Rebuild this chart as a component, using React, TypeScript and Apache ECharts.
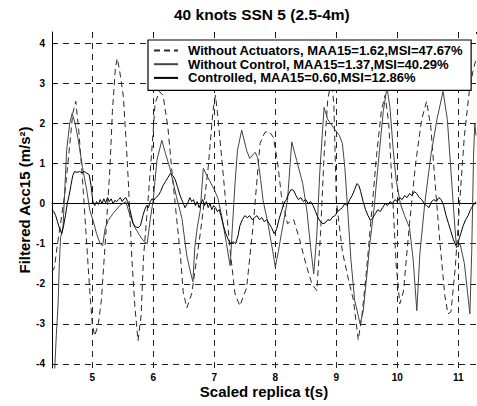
import { useEffect, useRef } from "react";
import * as echarts from "echarts";

const titleText = "40 knots SSN 5 (2.5-4m)";
const xAxisTitle = "Scaled replica t(s)";
const yAxisTitle = "Filtered Acc15 (m/s\u00B2)";
const seriesNames = [
  "Without Actuators, MAA15=1.62,MSI=47.67%",
  "Without Control, MAA15=1.37,MSI=40.29%",
  "Controlled, MAA15=0.60,MSI=12.86%",
];
const xRange = [4.34, 11.29];
const yRange = [-4.1, 4.28];

// [t (s), acceleration (m/s^2)]
const withoutActuators: [number, number][] = [
  [4.34,-1.7],[4.38,-1.6],[4.43,-1.0],[4.48,-0.5],[4.55,0.25],[4.62,1.3],[4.68,2.25],[4.73,2.55],[4.78,1.8],[4.84,0.6],
  [4.90,-0.8],[4.96,-2.2],[5.00,-3.0],[5.04,-3.3],[5.10,-3.0],[5.15,-2.4],[5.22,-0.8],[5.29,0.9],[5.33,2.3],[5.38,3.4],
  [5.41,3.62],[5.45,3.3],[5.51,2.67],[5.56,1.42],[5.59,0.58],[5.65,-1.4],[5.70,-2.6],[5.75,-3.42],[5.80,-2.8],[5.84,-1.35],
  [5.91,0.0],[5.97,1.2],[6.03,2.5],[6.10,2.8],[6.16,2.7],[6.24,1.9],[6.30,0.9],[6.38,-0.33],[6.44,-1.2],[6.49,-2.2],
  [6.55,-2.6],[6.63,-2.25],[6.70,-1.5],[6.77,-0.75],[6.84,0.1],[6.90,0.9],[6.98,2.33],[7.02,2.7],[7.06,2.15],[7.15,0.67],
  [7.26,-1.17],[7.34,-2.25],[7.42,-2.55],[7.53,-2.1],[7.64,-0.5],[7.75,1.5],[7.83,1.78],[7.90,1.8],[7.97,1.65],[8.04,1.0],
  [8.10,0.2],[8.20,-0.5],[8.30,-0.4],[8.40,-0.9],[8.50,-1.5],[8.60,-2.0],[8.68,-2.17],[8.74,-0.8],[8.80,1.2],[8.86,2.6],
  [8.92,3.05],[8.96,2.5],[9.00,0.08],[9.10,-1.2],[9.20,-1.9],[9.28,-2.4],[9.36,-3.4],[9.42,-2.8],[9.50,-1.6],[9.58,-0.2],
  [9.66,1.2],[9.74,2.33],[9.80,2.7],[9.86,2.0],[9.92,0.3],[9.98,-1.5],[10.04,-2.5],[10.10,-2.2],[10.20,-0.5],[10.30,1.0],
  [10.40,2.1],[10.48,2.55],[10.55,1.9],[10.62,0.5],[10.70,-1.0],[10.78,-2.3],[10.83,-2.75],[10.88,-2.7],[10.95,-1.6],[11.03,0.2],
  [11.10,1.7],[11.18,2.8],[11.24,3.3],[11.29,3.6],
];

const withoutControl: [number, number][] = [
  [4.34,-4.8],[4.38,-4.3],[4.41,-3.3],[4.44,-2.5],[4.46,-1.5],[4.48,-0.85],[4.52,-0.6],[4.58,1.33],[4.63,2.0],[4.67,2.25],
  [4.72,2.0],[4.77,1.6],[4.84,0.9],[4.91,0.33],[4.96,-0.17],[5.02,-0.45],[5.07,-0.75],[5.13,-1.0],[5.17,-1.05],[5.21,-0.63],
  [5.26,-0.42],[5.34,-0.25],[5.45,-0.05],[5.55,0.05],[5.62,-0.3],[5.70,-0.6],[5.78,-0.8],[5.85,-0.95],[5.90,-1.0],[5.95,-0.4],
  [6.00,0.1],[6.06,1.08],[6.14,1.58],[6.20,1.25],[6.27,0.9],[6.38,0.17],[6.47,-0.37],[6.55,-1.3],[6.60,-1.65],[6.65,-1.95],
  [6.68,-1.1],[6.72,-0.6],[6.77,-0.17],[6.82,0.88],[6.88,0.7],[6.93,0.55],[7.00,0.35],[7.06,0.13],[7.12,-0.3],[7.20,-1.0],
  [7.26,-1.55],[7.30,-0.5],[7.34,0.5],[7.38,1.33],[7.45,1.83],[7.53,1.33],[7.58,1.13],[7.67,1.28],[7.71,1.15],[7.76,0.6],
  [7.80,0.08],[7.88,-0.5],[7.96,-1.2],[8.00,-1.58],[8.05,-1.2],[8.10,-0.75],[8.20,0.08],[8.27,1.54],[8.35,1.08],[8.45,0.5],
  [8.52,-0.2],[8.58,-1.1],[8.63,-1.75],[8.68,-0.8],[8.73,0.8],[8.80,2.4],[8.86,2.1],[8.95,1.9],[9.05,1.7],[9.10,1.5],
  [9.14,0.9],[9.18,0.0],[9.24,-1.4],[9.30,-2.4],[9.39,-3.0],[9.44,-2.7],[9.50,-1.8],[9.55,-1.0],[9.62,-0.1],[9.70,1.2],
  [9.77,2.3],[9.83,2.9],[9.88,2.4],[9.93,1.4],[9.98,0.6],[10.05,0.0],[10.12,-0.3],[10.20,-0.6],[10.26,-1.4],[10.32,-2.67],
  [10.37,-1.25],[10.45,0.0],[10.55,1.2],[10.65,2.1],[10.75,2.8],[10.82,2.1],[10.88,0.8],[10.93,-0.3],[10.97,-1.1],[11.03,-1.0],
  [11.10,-1.5],[11.15,-2.2],[11.19,-2.75],[11.22,-1.2],[11.25,1.2],[11.27,2.0],[11.29,1.7],
];

const controlled: [number, number][] = [
  [4.34,-0.15],[4.37,-0.2],[4.40,-0.3],[4.43,-0.45],[4.46,-0.6],[4.50,-0.75],[4.53,-0.55],[4.56,-0.3],[4.59,0.0],[4.62,0.2],
  [4.65,0.45],[4.68,0.7],[4.71,0.8],[4.75,0.78],[4.79,0.8],[4.83,0.77],[4.87,0.8],[4.91,0.76],[4.95,0.72],[4.98,0.45],
  [5.01,0.05],[5.04,-0.05],[5.07,0.05],[5.10,-0.02],[5.13,0.1],[5.16,0.0],[5.19,0.12],[5.22,0.02],[5.25,0.15],[5.28,0.05],
  [5.31,0.12],[5.34,0.0],[5.37,0.08],[5.40,0.05],[5.43,0.1],[5.46,0.15],[5.49,0.05],[5.52,0.12],[5.55,0.15],[5.58,0.05],
  [5.61,-0.1],[5.64,-0.3],[5.67,-0.5],[5.71,-0.58],[5.75,-0.6],[5.79,-0.55],[5.83,-0.3],[5.86,-0.15],[5.89,-0.05],[5.92,-0.1],
  [5.95,0.05],[5.98,0.12],[6.01,0.08],[6.04,0.15],[6.08,0.2],[6.12,0.3],[6.16,0.45],[6.20,0.55],[6.24,0.65],[6.28,0.75],
  [6.32,0.7],[6.36,0.6],[6.40,0.4],[6.44,0.2],[6.48,0.05],[6.52,-0.1],[6.56,0.0],[6.60,0.15],[6.63,0.05],[6.66,0.1],
  [6.69,-0.05],[6.72,0.05],[6.75,-0.1],[6.78,0.0],[6.81,0.1],[6.84,-0.05],[6.87,0.05],[6.90,-0.1],[6.93,0.0],[6.96,-0.15],
  [6.99,-0.05],[7.02,-0.1],[7.05,-0.2],[7.08,-0.15],[7.11,-0.3],[7.15,-0.55],[7.19,-0.75],[7.23,-0.9],[7.27,-1.0],[7.31,-0.95],
  [7.35,-1.0],[7.39,-0.8],[7.42,-0.55],[7.46,-0.4],[7.50,-0.3],[7.54,-0.35],[7.58,-0.3],[7.62,-0.4],[7.66,-0.35],[7.70,-0.3],
  [7.74,-0.4],[7.78,-0.35],[7.82,-0.45],[7.86,-0.4],[7.90,-0.5],[7.94,-0.6],[7.98,-0.75],[8.02,-0.65],[8.06,-0.4],[8.10,-0.2],
  [8.14,0.0],[8.18,0.1],[8.22,0.25],[8.26,0.35],[8.30,0.33],[8.34,0.2],[8.38,0.1],[8.42,0.15],[8.46,0.05],[8.50,0.1],
  [8.54,0.0],[8.58,0.05],[8.62,-0.05],[8.66,-0.2],[8.70,-0.35],[8.74,-0.45],[8.78,-0.5],[8.82,-0.48],[8.86,-0.4],[8.90,-0.42],
  [8.94,-0.33],[8.98,-0.3],[9.02,-0.2],[9.06,-0.15],[9.10,-0.1],[9.14,0.0],[9.18,-0.05],[9.22,0.1],[9.26,0.2],[9.30,0.35],
  [9.34,0.5],[9.37,0.45],[9.40,0.3],[9.44,0.05],[9.48,-0.15],[9.52,-0.3],[9.56,-0.42],[9.60,-0.35],[9.64,-0.25],[9.68,-0.15],
  [9.72,-0.2],[9.76,-0.1],[9.80,0.0],[9.84,-0.05],[9.88,0.05],[9.92,0.0],[9.96,0.1],[10.00,0.05],[10.04,0.15],[10.08,0.1],
  [10.12,0.2],[10.16,0.15],[10.20,0.25],[10.24,0.2],[10.28,0.3],[10.32,0.25],[10.36,0.15],[10.40,0.1],[10.44,0.0],[10.48,-0.05],
  [10.52,-0.1],[10.56,0.05],[10.60,0.1],[10.64,0.05],[10.68,0.15],[10.72,0.1],[10.76,-0.05],[10.80,-0.3],[10.84,-0.5],[10.88,-0.7],
  [10.92,-0.9],[10.96,-1.05],[11.00,-0.95],[11.04,-0.75],[11.08,-0.55],[11.12,-0.4],[11.16,-0.3],[11.20,-0.15],[11.24,-0.05],[11.29,0.05],
];

const FONT = "'Liberation Sans', Arial, Helvetica, sans-serif";

export default function App() {
  const ref = useRef<HTMLDivElement>(null);
  useEffect(() => {
    if (!ref.current) return;
    const chart = echarts.init(ref.current, undefined, { renderer: "svg" });
    const grid = { type: [6, 5] as number[], color: "#222", width: 1 };
    chart.setOption({
      animation: false,
      backgroundColor: "#fff",
      title: {
        text: titleText,
        left: 174,
        top: 6,
        padding: 0,
        textStyle: { fontFamily: FONT, fontSize: 15.5, fontWeight: "bold", color: "#000" },
      },
      legend: {
        orient: "vertical",
        left: 148,
        top: 40,
        itemWidth: 24,
        itemHeight: 12,
        itemGap: 0.7,
        padding: [4, 8, 6, 5],
        borderColor: "#000",
        borderWidth: 1.2,
        borderRadius: 0,
        backgroundColor: "#fff",
        itemStyle: { opacity: 0, borderWidth: 0 },
        data: seriesNames,
        textStyle: {
          fontFamily: FONT,
          fontSize: 13,
          fontWeight: "bold",
          color: "#000",
          padding: [0, 0, 0, 5],
        },
      },
      grid: { left: 52, right: 1, top: 32, bottom: 38, containLabel: false },
      xAxis: [
        {
          type: "value",
          position: "bottom",
          min: xRange[0],
          max: xRange[1],
          splitNumber: 7,
          minInterval: 1,
          maxInterval: 1,
          name: xAxisTitle,
          nameLocation: "middle",
          nameGap: 16,
          nameMoveOverlap: false,
          nameTextStyle: { fontFamily: FONT, fontSize: 15, fontWeight: "bold", color: "#000", verticalAlign: "top" },
          axisLine: { show: true, lineStyle: { color: "#000", width: 1 } },
          axisTick: { show: true, inside: true, length: 4, lineStyle: { color: "#000" } },
          axisLabel: {
            showMinLabel: false,
            showMaxLabel: false,
            margin: 4,
            fontFamily: FONT,
            fontSize: 10,
            fontWeight: "bold",
            color: "#000",
          },
          splitLine: { show: true, showMinLine: false, showMaxLine: false, lineStyle: grid },
        },
        {
          type: "value",
          position: "top",
          min: xRange[0],
          max: xRange[1],
          splitNumber: 7,
          minInterval: 1,
          maxInterval: 1,
          axisLine: { show: false },
          axisTick: { show: true, inside: true, length: 2, lineStyle: { color: "#000" } },
          axisLabel: { show: false },
          splitLine: { show: false },
        },
      ],
      yAxis: {
        type: "value",
        min: yRange[0],
        max: yRange[1],
        splitNumber: 8,
        minInterval: 1,
        maxInterval: 1,
        name: yAxisTitle,
        nameLocation: "middle",
        nameGap: 20,
        nameMoveOverlap: false,
        nameTextStyle: { fontFamily: FONT, fontSize: 15, fontWeight: "bold", color: "#000" },
        axisLine: { show: true, lineStyle: { color: "#000", width: 1 } },
        axisTick: { show: true, inside: true, length: 4, lineStyle: { color: "#000" } },
        axisLabel: {
          showMinLabel: false,
          showMaxLabel: false,
          margin: 7,
          fontFamily: FONT,
          fontSize: 10,
          fontWeight: "bold",
          color: "#000",
        },
        splitLine: { show: true, showMinLine: false, showMaxLine: false, lineStyle: grid },
      },
      series: [
        {
          name: seriesNames[0],
          type: "line",
          data: withoutActuators,
          symbol: "none",
          showSymbol: false,
          clip: true,
          lineStyle: { color: "#2a2a2a", width: 1, type: [6, 4] },
          itemStyle: { color: "#2a2a2a" },
        },
        {
          name: seriesNames[1],
          type: "line",
          data: withoutControl,
          symbol: "none",
          showSymbol: false,
          clip: true,
          lineStyle: { color: "#444", width: 1, type: "solid" },
          itemStyle: { color: "#444" },
        },
        {
          name: seriesNames[2],
          type: "line",
          data: controlled,
          symbol: "none",
          showSymbol: false,
          clip: true,
          lineStyle: { color: "#000", width: 1, type: "solid" },
          itemStyle: { color: "#000" },
        },
      ],
    });
    return () => chart.dispose();
  }, []);
  return (
    <div
      ref={ref}
      style={{ position: "absolute", left: 0, top: 0, width: 477, height: 406, background: "#fff" }}
    />
  );
}
